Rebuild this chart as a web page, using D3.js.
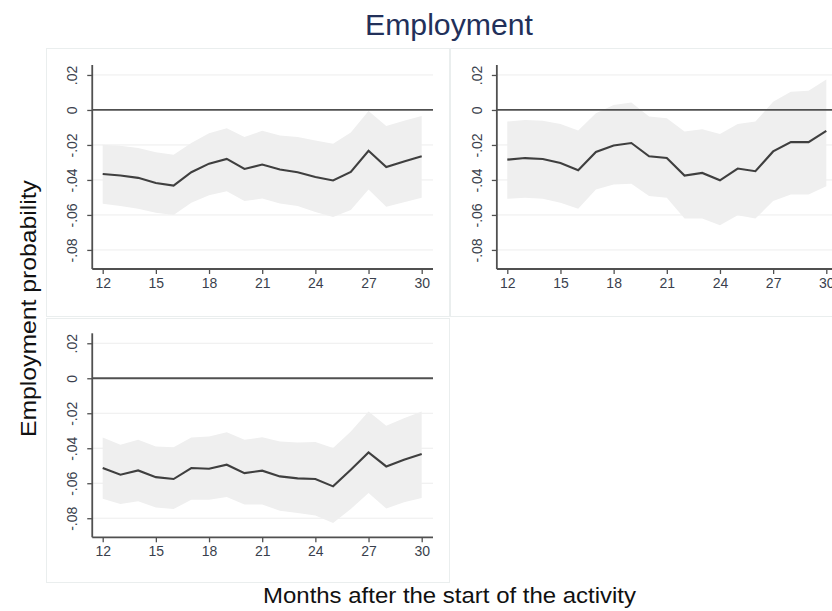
<!DOCTYPE html>
<html><head><meta charset="utf-8">
<script src="https://cdn.jsdelivr.net/npm/d3@7"></script>
<style>body{margin:0;background:#fff}svg{display:block}</style>
</head><body>
<svg id="c" width="832" height="611"></svg>
<script>
const months = [12,13,14,15,16,17,18,19,20,21,22,23,24,25,26,27,28,29,30];
const xTicks = [12,15,18,21,24,27,30];
const yTicks = [0.02,0,-0.02,-0.04,-0.06,-0.08];
const yTickLabels = [".02","0","-.02","-.04","-.06","-.08"];

// Panel 1 (top-left)
const p1Est = [-0.0366,-0.0375,-0.0388,-0.0417,-0.0432,-0.0356,-0.0307,-0.0280,-0.0337,-0.0312,-0.0340,-0.0356,-0.0383,-0.0403,-0.0354,-0.0233,-0.0326,-0.0294,-0.0265];
const p1Hi  = [-0.0199,-0.0205,-0.0218,-0.0242,-0.0256,-0.0189,-0.0133,-0.0104,-0.0155,-0.0119,-0.0146,-0.0155,-0.0174,-0.0193,-0.0129,-0.0006,-0.0091,-0.0061,-0.0034];
const p1Lo  = [-0.0536,-0.0549,-0.0564,-0.0587,-0.0600,-0.0530,-0.0487,-0.0464,-0.0521,-0.0506,-0.0534,-0.0549,-0.0583,-0.0612,-0.0572,-0.0455,-0.0553,-0.0527,-0.0502];
// Panel 2 (top-right)
const p2Est = [-0.0284,-0.0275,-0.0280,-0.0303,-0.0345,-0.0240,-0.0203,-0.0189,-0.0265,-0.0275,-0.0375,-0.0360,-0.0402,-0.0335,-0.0350,-0.0237,-0.0184,-0.0184,-0.0119];
const p2Hi  = [-0.0066,-0.0057,-0.0061,-0.0080,-0.0117,-0.0019,0.0028,0.0042,-0.0038,-0.0047,-0.0123,-0.0110,-0.0138,-0.0080,-0.0066,0.0047,0.0104,0.0110,0.0174];
const p2Lo  = [-0.0508,-0.0502,-0.0508,-0.0530,-0.0564,-0.0455,-0.0426,-0.0422,-0.0492,-0.0502,-0.0621,-0.0621,-0.0659,-0.0602,-0.0621,-0.0521,-0.0483,-0.0483,-0.0436];
// Panel 3 (bottom-left)
const p3Est = [-0.0513,-0.0551,-0.0527,-0.0565,-0.0576,-0.0513,-0.0517,-0.0494,-0.0542,-0.0528,-0.0561,-0.0572,-0.0576,-0.0618,-0.0523,-0.0424,-0.0504,-0.0466,-0.0433];
const p3Hi  = [-0.0338,-0.0380,-0.0352,-0.0390,-0.0394,-0.0338,-0.0333,-0.0308,-0.0352,-0.0337,-0.0361,-0.0367,-0.0365,-0.0399,-0.0304,-0.0190,-0.0272,-0.0228,-0.0190];
const p3Lo  = [-0.0688,-0.0719,-0.0703,-0.0738,-0.0747,-0.0694,-0.0694,-0.0679,-0.0722,-0.0722,-0.0757,-0.0770,-0.0785,-0.0827,-0.0747,-0.0656,-0.0745,-0.0709,-0.0684];

const title = "Employment";
const yLabel = "Employment probability";
const xLabel = "Months after the start of the activity";

const svg = d3.select("#c");
const FONT = "Arial, 'Liberation Sans', sans-serif";

// panel frames
const frames = [[46,48,403,268],[450,48,390,268],[46,318,403,264]];
frames.forEach(f=>{
  svg.append("rect").attr("x",f[0]+0.5).attr("y",f[1]+0.5).attr("width",f[2]).attr("height",f[3])
    .attr("fill","#fff").attr("stroke","#eaeeee").attr("stroke-width",1);
});

function panel(ox, oy, est, hi, lo, xEnd){
  const g = svg.append("g").attr("transform",`translate(${ox},${oy})`);
  const x = d3.scaleLinear().domain([12,30]).range([102.7,421.7]);
  const y = d3.scaleLinear().domain([-0.0909,0.0257]).range([269,65]);
  const x0 = x(11.41);
  const xR = xEnd;
  // gridlines
  g.selectAll("line.grid").data(yTicks.filter(t=>t!==0)).join("line")
    .attr("x1",x0).attr("x2",xR).attr("y1",d=>y(d)).attr("y2",d=>y(d))
    .attr("stroke","#ededed").attr("stroke-width",1);
  // band
  const data = months.map((m,i)=>({m,e:est[i],h:hi[i],l:lo[i]}));
  g.append("path").datum(data)
    .attr("d",d3.area().x(d=>x(d.m)).y0(d=>y(d.l)).y1(d=>y(d.h)))
    .attr("fill","#efefef");
  // zero line
  g.append("line").attr("x1",x0).attr("x2",xR).attr("y1",y(0)).attr("y2",y(0))
    .attr("stroke","#505050").attr("stroke-width",1.8);
  // estimate line
  g.append("path").datum(data)
    .attr("d",d3.line().x(d=>x(d.m)).y(d=>y(d.e)))
    .attr("fill","none").attr("stroke","#3f3f3f").attr("stroke-width",2.1);
  // x axis
  const xa = g.append("g").attr("transform",`translate(0,${y.range()[0]})`)
    .call(d3.axisBottom(x).tickValues(xTicks).tickSize(5).tickPadding(4).tickFormat(d3.format("d")));
  xa.select(".domain").attr("d",`M${x0},0H${xR}`).attr("stroke","#505050").attr("stroke-width",1.8);
  xa.selectAll(".tick line").attr("stroke","#505050").attr("stroke-width",1.3);
  xa.selectAll(".tick text").attr("font-family",FONT).attr("font-size",14).attr("fill","#3a3f4d");
  // y axis
  const ya = g.append("g").attr("transform",`translate(${x0},0)`)
    .call(d3.axisLeft(y).tickValues(yTicks).tickSize(5).tickFormat((d,i)=>yTickLabels[i]));
  ya.select(".domain").attr("d",`M0,${y.range()[1]}V${y.range()[0]}`).attr("stroke","#505050").attr("stroke-width",1.8);
  ya.selectAll(".tick line").attr("stroke","#505050").attr("stroke-width",1.3);
  ya.selectAll(".tick text")
    .attr("x",0).attr("dy",null)
    .attr("transform","translate(-20,0) rotate(-90)")
    .attr("text-anchor","middle").attr("dominant-baseline","central")
    .attr("font-family",FONT).attr("font-size",14).attr("fill","#3a3f4d");
}

panel(0,0,p1Est,p1Hi,p1Lo,433);
panel(404.6,0,p2Est,p2Hi,p2Lo,832-404.6);
panel(0,268.3,p3Est,p3Hi,p3Lo,433);

svg.append("text").attr("x",449).attr("y",35).attr("text-anchor","middle")
  .attr("font-family",FONT).attr("font-size",30).attr("fill","#22305a")
  .attr("textLength",168).attr("lengthAdjust","spacingAndGlyphs").text(title);
svg.append("text").attr("transform","translate(36,308.5) rotate(-90)").attr("text-anchor","middle")
  .attr("font-family",FONT).attr("font-size",22).attr("fill","#111")
  .attr("textLength",257).attr("lengthAdjust","spacingAndGlyphs").text(yLabel);
svg.append("text").attr("x",449.5).attr("y",603).attr("text-anchor","middle")
  .attr("font-family",FONT).attr("font-size",22).attr("fill","#111")
  .attr("textLength",373).attr("lengthAdjust","spacingAndGlyphs").text(xLabel);
</script>
</body></html>
